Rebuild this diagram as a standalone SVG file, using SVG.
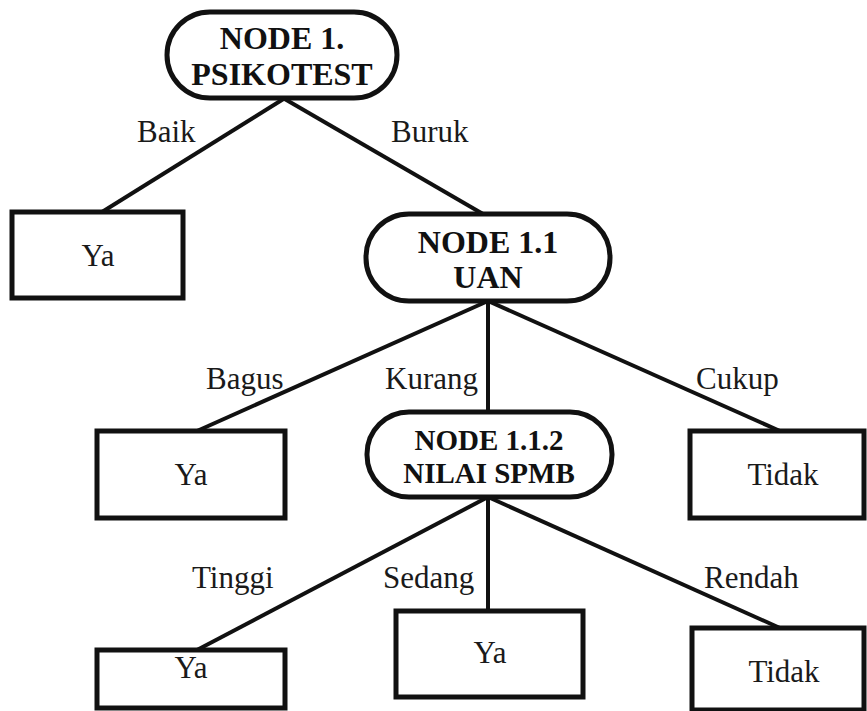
<svg xmlns="http://www.w3.org/2000/svg" width="867" height="711" viewBox="0 0 867 711">
<style>
.box{fill:#fff;stroke:#111;stroke-width:5}
.conn line{stroke:#111;stroke-width:4}
text{font-family:'Liberation Serif','Times New Roman',Times,serif;font-size:31px;fill:#1a1a1a}
.b{font-weight:bold;font-size:32px;text-anchor:middle;fill:#111}
.s{font-size:29px}
.t{text-anchor:middle}
</style>
<rect width="867" height="711" fill="#fff"/>
<g class="conn" id="connectors">
<line x1="285" y1="98" x2="102" y2="212"/>
<line x1="283" y1="98" x2="483" y2="214"/>
<line x1="488" y1="301" x2="197" y2="431"/>
<line x1="488" y1="301" x2="488" y2="412"/>
<line x1="488" y1="301" x2="780" y2="431"/>
<line x1="488" y1="497" x2="197" y2="650"/>
<line x1="488" y1="497" x2="488" y2="611"/>
<line x1="488" y1="497" x2="780" y2="628"/>
</g>
<g id="edge-labels">
<text x="137" y="142">Baik</text>
<text x="391" y="142">Buruk</text>
<text x="206" y="389">Bagus</text>
<text x="385" y="389">Kurang</text>
<text x="696" y="389">Cukup</text>
<text x="192" y="588">Tinggi</text>
<text x="383" y="588">Sedang</text>
<text x="704" y="588">Rendah</text>
</g>
<g id="node1">
<rect class="box" x="167" y="12" width="230" height="86" rx="43"/>
<text class="b" x="282" y="49">NODE 1.</text>
<text class="b" x="282" y="85">PSIKOTEST</text>
</g>
<g id="ya1">
<rect class="box" x="12" y="212" width="171" height="86"/>
<text class="t" x="98" y="266">Ya</text>
</g>
<g id="node1-1">
<rect class="box" x="366" y="214" width="244" height="87" rx="43"/>
<text class="b" x="488" y="253">NODE 1.1</text>
<text class="b" x="488" y="288">UAN</text>
</g>
<g id="ya2">
<rect class="box" x="97" y="431" width="188" height="87"/>
<text class="t" x="191" y="485">Ya</text>
</g>
<g id="node1-1-2">
<rect class="box" x="367" y="412" width="245" height="85" rx="42"/>
<text class="b s" x="489" y="450">NODE 1.1.2</text>
<text class="b s" x="489" y="483">NILAI SPMB</text>
</g>
<g id="tidak1">
<rect class="box" x="690" y="431" width="174" height="87"/>
<text class="t" x="783" y="485">Tidak</text>
</g>
<g id="ya3">
<rect class="box" x="97" y="650" width="188" height="58"/>
<text class="t" x="191" y="678">Ya</text>
</g>
<g id="ya4">
<rect class="box" x="396" y="611" width="187" height="86"/>
<text class="t" x="490" y="663">Ya</text>
</g>
<g id="tidak2">
<rect class="box" x="692" y="628" width="172" height="82"/>
<text class="t" x="784" y="682">Tidak</text>
</g>
</svg>
